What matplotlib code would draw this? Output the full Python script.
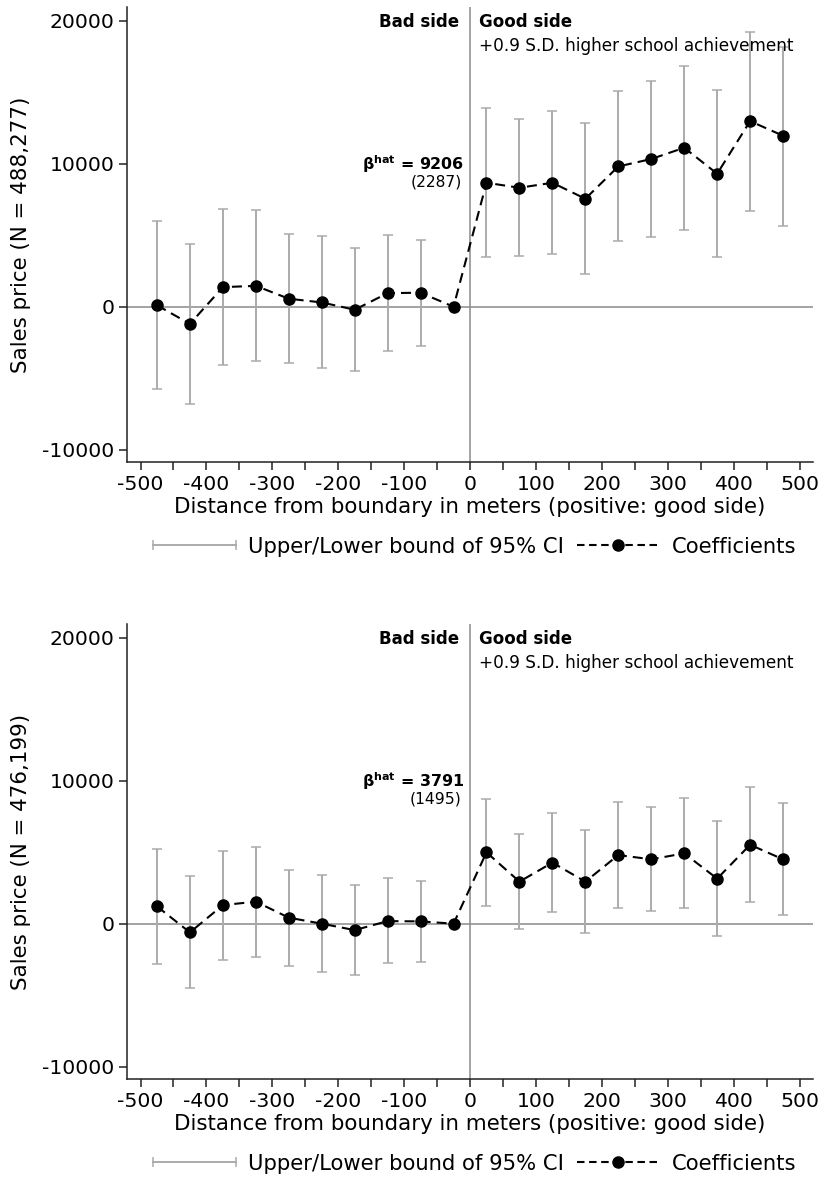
import matplotlib
matplotlib.use('Agg')
import matplotlib.pyplot as plt
from matplotlib.lines import Line2D
from matplotlib.legend_handler import HandlerLine2D

plt.rcParams['font.family'] = 'DejaVu Sans'
plt.rcParams['axes.unicode_minus'] = False

# bin centres (50 m bins), -25 is the omitted reference bin
dist = [-475, -425, -375, -325, -275, -225, -175, -125, -75, -25,
        25, 75, 125, 175, 225, 275, 325, 375, 425, 475]

# all sales
coef_all = [100, -1200, 1370, 1460, 560, 300, -210, 950, 980, 0,
            8670, 8320, 8670, 7550, 9810, 10330, 11120, 9300, 12980, 11960]
lo_all = [-5760, -6800, -4100, -3830, -3960, -4290, -4520, -3100, -2750, None,
          3450, 3540, 3660, 2290, 4620, 4870, 5380, 3470, 6730, 5660]
hi_all = [5990, 4400, 6800, 6770, 5080, 4920, 4080, 5050, 4700, None,
          13870, 13120, 13680, 12820, 15060, 15780, 16810, 15130, 19210, 18180]

# restricted sample
coef_sub = [1210, -610, 1300, 1540, 420, 0, -450, 180, 160, 0,
            4990, 2940, 4270, 2940, 4800, 4500, 4920, 3150, 5520, 4500]
lo_sub = [-2800, -4520, -2520, -2330, -2940, -3380, -3590, -2780, -2680, None,
          1230, -370, 820, -650, 1120, 860, 1120, -840, 1510, 580]
hi_sub = [5220, 3310, 5080, 5380, 3750, 3430, 2680, 3190, 3000, None,
          8690, 6290, 7740, 6530, 8480, 8180, 8760, 7150, 9530, 8460]

panels = [
    ('Sales price (N = 488,277)', coef_all, lo_all, hi_all, '9206', '(2287)'),
    ('Sales price (N = 476,199)', coef_sub, lo_sub, hi_sub, '3791', '(1495)'),
]

CI_COLOR = '#ababab'
REF_COLOR = '#8a8a8a'
SPINE = '#222222'
FS_TICK = 14.7
FS_LAB = 15.4

fig = plt.figure(figsize=(8.22, 11.81), dpi=100)
axes = [fig.add_axes([0.1549, 0.6088, 0.8338, 0.3850]),
        fig.add_axes([0.1549, 0.0864, 0.8338, 0.3850])]

xticks = list(range(-500, 501, 50))
xlabels = [str(v) if v % 100 == 0 else '' for v in xticks]

for ax, (ylab, coef, lo, hi, beta, se) in zip(axes, panels):
    ax.axhline(0, color=REF_COLOR, lw=1.1, zorder=1)
    ax.axvline(0, color=REF_COLOR, lw=1.1, zorder=1)

    keep = [i for i in range(len(dist)) if lo[i] is not None]
    xs = [dist[i] for i in keep]
    cs = [coef[i] for i in keep]
    err = [[coef[i] - lo[i] for i in keep], [hi[i] - coef[i] for i in keep]]
    ax.errorbar(xs, cs, yerr=err, fmt='none', ecolor=CI_COLOR,
                elinewidth=1.4, capsize=3.6, capthick=1.1, zorder=2)
    ax.plot(dist, coef, color='black', ls='--', dashes=(4.8, 2.9), lw=1.5,
            marker='o', ms=8, zorder=3)

    ax.set_xlim(-520, 520)
    ax.set_ylim(-10860, 20940)
    ax.set_xticks(xticks)
    ax.set_xticklabels(xlabels)
    ax.set_yticks([-10000, 0, 10000, 20000])
    ax.tick_params(direction='out', length=5.8, width=1.1, color=SPINE,
                   labelsize=FS_TICK, pad=3.5)
    for side in ('top', 'right'):
        ax.spines[side].set_visible(False)
    for side in ('left', 'bottom'):
        ax.spines[side].set_color(SPINE)
        ax.spines[side].set_linewidth(1.1)

    ax.set_xlabel('Distance from boundary in meters (positive: good side)',
                  fontsize=FS_LAB, labelpad=2)
    ax.set_ylabel(ylab, fontsize=FS_LAB)
    ax.yaxis.set_label_coords(-0.140, 0.5)

    ax.text(-16, 19550, 'Bad side', ha='right', va='baseline',
            fontsize=12, fontweight='bold')
    ax.text(13, 19550, 'Good side', ha='left', va='baseline',
            fontsize=12, fontweight='bold')
    ax.text(13, 17900, '+0.9 S.D. higher school achievement', ha='left',
            va='baseline', fontsize=12.2)
    ax.text(-9, 9560, r'$\mathbf{β^{hat}}$ = ' + beta, ha='right',
            va='baseline', fontsize=11.4, fontweight='bold')
    ax.text(-13, 8400, se, ha='right', va='baseline', fontsize=11.2)

    ci_handle = Line2D([], [], color=CI_COLOR, lw=1.4, marker='|', ms=7,
                       mew=1.1)
    coef_handle = Line2D([], [], color='black', ls='--', dashes=(3.6, 2.2),
                         lw=1.5, marker='o', ms=8)
    ax.legend([ci_handle, coef_handle],
              ['Upper/Lower bound of 95% CI', 'Coefficients'],
              handler_map={ci_handle: HandlerLine2D(numpoints=2, marker_pad=0)},
              ncol=2, frameon=False, loc='center',
              bbox_to_anchor=(0.507, -0.186), handlelength=3.9,
              handletextpad=0.6, columnspacing=0.6, fontsize=15.2)

fig.savefig('out.png', dpi=100)
